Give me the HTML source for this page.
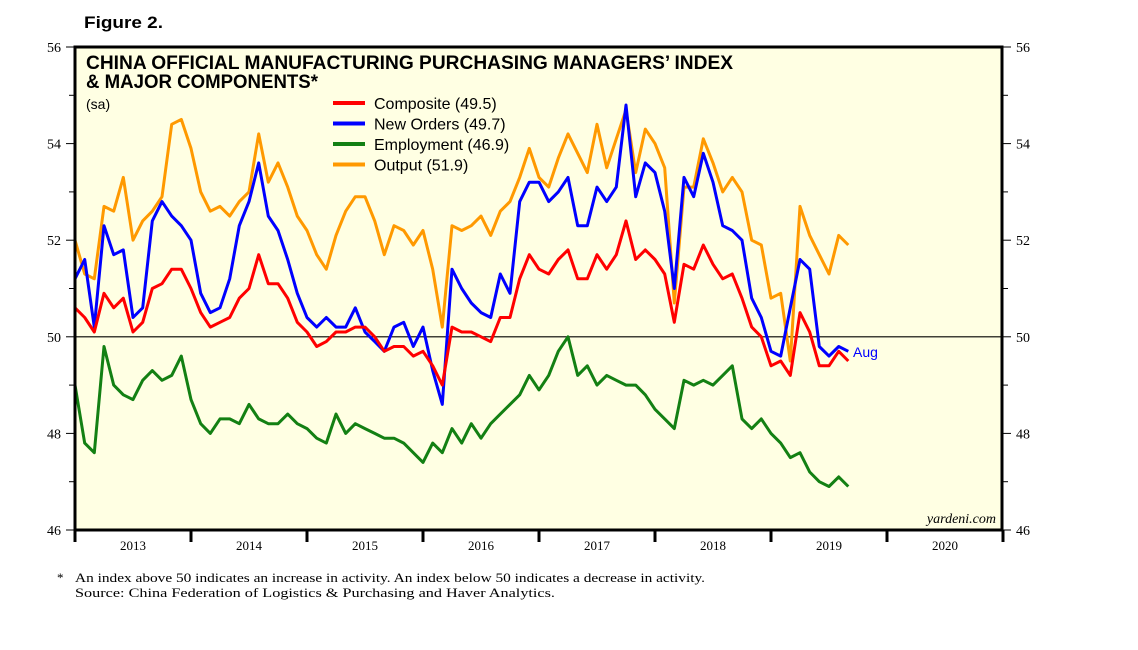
<!DOCTYPE html>
<html><head><meta charset="utf-8"><style>
body{margin:0;background:#fff}
svg{display:block}
</style></head><body>
<svg id="chart" width="1138" height="650" xmlns="http://www.w3.org/2000/svg" font-family="'Liberation Sans',sans-serif">
<text x="84" y="28" font-size="17" font-weight="bold" textLength="79" lengthAdjust="spacingAndGlyphs">Figure 2.</text>
<rect x="75" y="47" width="927" height="483" fill="#FFFFE3"/>
<g id="grid"></g>
<g id="series"></g>
<rect x="75" y="47" width="927" height="483" fill="none" stroke="#000" stroke-width="3"/>
<g id="axes"></g>
<text x="86" y="69" font-size="19" font-weight="bold" textLength="647" lengthAdjust="spacingAndGlyphs">CHINA OFFICIAL MANUFACTURING PURCHASING MANAGERS’ INDEX</text>
<text x="86" y="88" font-size="19" font-weight="bold" textLength="232" lengthAdjust="spacingAndGlyphs">&amp; MAJOR COMPONENTS*</text>
<text x="86" y="109" font-size="14">(sa)</text>
<g id="legend" font-size="16"></g>
<text x="996" y="523" font-size="14" font-style="italic" font-family="'Liberation Serif',serif" text-anchor="end">yardeni.com</text>
<text x="853" y="357" font-size="14" fill="#0000FF">Aug</text>
<text x="57" y="582" font-size="13" font-family="'Liberation Serif',serif">*</text>
<text x="75" y="582" font-size="13" font-family="'Liberation Serif',serif" textLength="630" lengthAdjust="spacingAndGlyphs">An index above 50 indicates an increase in activity. An index below 50 indicates a decrease in activity.</text>
<text x="75" y="597" font-size="13" font-family="'Liberation Serif',serif" textLength="480" lengthAdjust="spacingAndGlyphs">Source: China Federation of Logistics &amp; Purchasing and Haver Analytics.</text>
</svg>
<script>
const years=["2013","2014","2015","2016","2017","2018","2019","2020"];
const yTicks=[46,48,50,52,54,56];
const composite=[50.6,50.4,50.1,50.9,50.6,50.8,50.1,50.3,51.0,51.1,51.4,51.4,51.0,50.5,50.2,50.3,50.4,50.8,51.0,51.7,51.1,51.1,50.8,50.3,50.1,49.8,49.9,50.1,50.1,50.2,50.2,50.0,49.7,49.8,49.8,49.6,49.7,49.4,49.0,50.2,50.1,50.1,50.0,49.9,50.4,50.4,51.2,51.7,51.4,51.3,51.6,51.8,51.2,51.2,51.7,51.4,51.7,52.4,51.6,51.8,51.6,51.3,50.3,51.5,51.4,51.9,51.5,51.2,51.3,50.8,50.2,50.0,49.4,49.5,49.2,50.5,50.1,49.4,49.4,49.7,49.5];
const newOrders=[51.2,51.6,50.2,52.3,51.7,51.8,50.4,50.6,52.4,52.8,52.5,52.3,52.0,50.9,50.5,50.6,51.2,52.3,52.8,53.6,52.5,52.2,51.6,50.9,50.4,50.2,50.4,50.2,50.2,50.6,50.1,49.9,49.7,50.2,50.3,49.8,50.2,49.3,48.6,51.4,51.0,50.7,50.5,50.4,51.3,50.9,52.8,53.2,53.2,52.8,53.0,53.3,52.3,52.3,53.1,52.8,53.1,54.8,52.9,53.6,53.4,52.6,51.0,53.3,52.9,53.8,53.2,52.3,52.2,52.0,50.8,50.4,49.7,49.6,50.6,51.6,51.4,49.8,49.6,49.8,49.7];
const employment=[49.0,47.8,47.6,49.8,49.0,48.8,48.7,49.1,49.3,49.1,49.2,49.6,48.7,48.2,48.0,48.3,48.3,48.2,48.6,48.3,48.2,48.2,48.4,48.2,48.1,47.9,47.8,48.4,48.0,48.2,48.1,48.0,47.9,47.9,47.8,47.6,47.4,47.8,47.6,48.1,47.8,48.2,47.9,48.2,48.4,48.6,48.8,49.2,48.9,49.2,49.7,50.0,49.2,49.4,49.0,49.2,49.1,49.0,49.0,48.8,48.5,48.3,48.1,49.1,49.0,49.1,49.0,49.2,49.4,48.3,48.1,48.3,48.0,47.8,47.5,47.6,47.2,47.0,46.9,47.1,46.9];
const output=[52.0,51.3,51.2,52.7,52.6,53.3,52.0,52.4,52.6,52.9,54.4,54.5,53.9,53.0,52.6,52.7,52.5,52.8,53.0,54.2,53.2,53.6,53.1,52.5,52.2,51.7,51.4,52.1,52.6,52.9,52.9,52.4,51.7,52.3,52.2,51.9,52.2,51.4,50.2,52.3,52.2,52.3,52.5,52.1,52.6,52.8,53.3,53.9,53.3,53.1,53.7,54.2,53.8,53.4,54.4,53.5,54.1,54.7,53.4,54.3,54.0,53.5,50.7,53.1,53.1,54.1,53.6,53.0,53.3,53.0,52.0,51.9,50.8,50.9,49.5,52.7,52.1,51.7,51.3,52.1,51.9];
const seriesNames=["Composite (49.5)","New Orders (49.7)","Employment (46.9)","Output (51.9)"];

const NS="http://www.w3.org/2000/svg";
const X0=75,X1=1002,Y0=47,Y1=530,YEARW=116,MONTHW=YEARW/12;
function xs(i){return X0+i*MONTHW;}
function ys(v){return Y1-(v-46)/(56-46)*(Y1-Y0);}
function mk(tag,attrs,parent){const e=document.createElementNS(NS,tag);for(const k in attrs)e.setAttribute(k,attrs[k]);parent.appendChild(e);return e;}
const grid=document.getElementById('grid'),axes=document.getElementById('axes'),ser=document.getElementById('series'),leg=document.getElementById('legend');

const zl=mk('line',{x1:X0,x2:X1,y1:ys(50),y2:ys(50),stroke:'#000','stroke-width':1.2},grid);



for(let v=46;v<=56;v++){
  const major=yTicks.includes(v);
  const l=mk('line',{x1:X0-(major?9:6),x2:X0,y1:ys(v),y2:ys(v),stroke:'#000','stroke-width':1},axes);
  
  
  const r=mk('line',{x1:X1,x2:X1+(major?9:6),y1:ys(v),y2:ys(v),stroke:'#000','stroke-width':1},axes);
  
  
}
yTicks.forEach(v=>{
  const t=mk('text',{x:X0-14,y:ys(v)+5,'font-size':14,'text-anchor':'end','font-family':"'Liberation Serif',serif"},axes);
  t.textContent=v;
  
  
  const t2=mk('text',{x:X1+14,y:ys(v)+5,'font-size':14,'font-family':"'Liberation Serif',serif"},axes);
  t2.textContent=v;
  
  
});
for(let k=0;k<=years.length;k++){
  const x=X0+k*YEARW;
  const l=mk('line',{x1:x,x2:x,y1:Y1,y2:Y1+12,stroke:'#000','stroke-width':3},axes);
  
  
}
years.forEach((y,k)=>{
  const t=mk('text',{x:X0+(k+0.5)*YEARW,y:Y1+20,'font-size':13,'text-anchor':'middle','font-family':"'Liberation Serif',serif"},axes);
  t.textContent=y;
  
  
});

const allSeries=[[employment,'#138013','employment-line'],[output,'#FF9900','output-line'],[newOrders,'#0000FF','new-orders-line'],[composite,'#FF0000','composite-line']];
allSeries.forEach(([d,c,n])=>{
  const p=mk('polyline',{points:d.map((v,i)=>xs(i).toFixed(1)+','+ys(v).toFixed(1)).join(' '),fill:'none',stroke:c,'stroke-width':3,'stroke-linejoin':'round'},ser);
  
  
});

const legColors=['#FF0000','#0000FF','#138013','#FF9900'];
seriesNames.forEach((s,k)=>{
  const y=103+k*20.5;
  const l=mk('line',{x1:333,x2:365,y1:y,y2:y,stroke:legColors[k],'stroke-width':4},leg);
  
  
  const t=mk('text',{x:374,y:y+6},leg);
  t.textContent=s;
  
  
});
</script>
</body></html>
